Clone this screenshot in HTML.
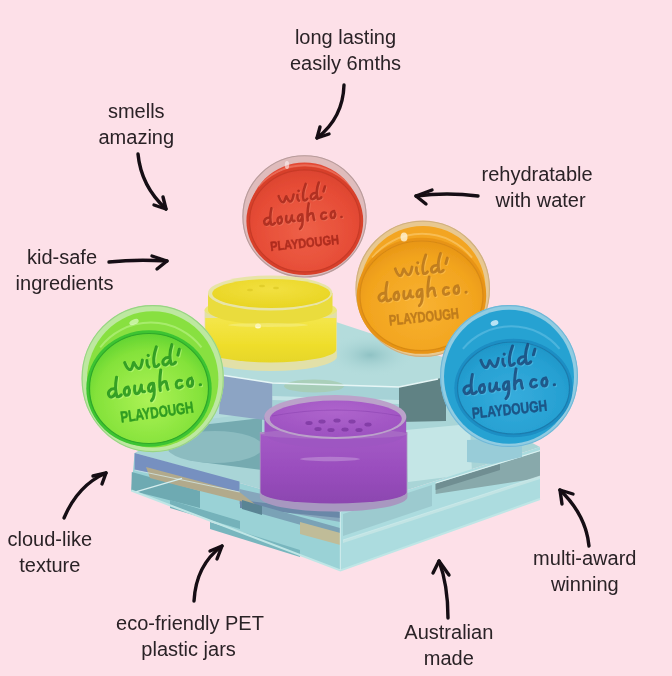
<!DOCTYPE html>
<html><head><meta charset="utf-8">
<style>
html,body{margin:0;padding:0;background:#fde0e8;width:672px;height:676px;overflow:hidden}
svg{display:block;position:absolute;left:0;top:0}
.t{font-family:"Liberation Sans",sans-serif;font-size:20px;fill:#2a2226}
.ar{fill:none;stroke:#141012;stroke-width:3.4;stroke-linecap:round;stroke-linejoin:round}
.pd{font-family:"Liberation Sans",sans-serif;font-weight:bold}
</style></head><body>
<svg width="672" height="676" viewBox="0 0 672 676">
<rect width="672" height="676" fill="#fde0e8"/>
<defs>
<g id="scr" fill="none" stroke="currentColor" stroke-width="2.7" stroke-linecap="round" stroke-linejoin="round">
<path d="M22,13 C23,17 24,20 26,20 C28,20 29,15 30,14 C31,16 32,20 34,20 C36,20 37,16 38,13"/>
<path d="M42,14 C41.5,17 41.5,19 43,20 M43.6,9.5 l0.2,0.2"/>
<path d="M52,3 C49,9 47,16 48,20 C49,21 51,20 52,19"/>
<path d="M62,14 C58,13 55,16 56,19 C57,21 60,20 62,17 M66,3 C63,9 62,15 63,20 C64,21 66,20 67,19"/>
<path d="M72,8 l-2,5"/>
<path d="M10,35 C6,34 3,37 4,40 C5,43 8,42 10,39 M13,25 C11,31 10,37 11,42 C12,43 14,42 15,41"/>
<path d="M22,35 C18,35 17,40 19,42 C22,43 24,39 22,35"/>
<path d="M28,35 C27,39 27,42 29,42 C31,42 33,38 34,35 C33,39 34,42 36,41"/>
<path d="M45,35 C41,34 39,38 40,41 C42,43 44,40 45,36 C45,42 44,48 41,50"/>
<path d="M53,24 C51,31 50,37 50,42 M50,39 C51,36 54,34 56,35 C57,37 56,40 57,42"/>
<path d="M70,36 C66,34 64,38 65,41 C66,43 69,42 70,41"/>
<path d="M79,35 C75,35 74,40 76,42 C79,43 81,39 79,35"/>
<path d="M86,42 l0.3,0"/>
</g>
</defs>
<defs><filter id="soft" x="-5%" y="-5%" width="110%" height="110%"><feGaussianBlur stdDeviation="0.7"/></filter><filter id="gray"><feGaussianBlur stdDeviation="0.3"/></filter><radialGradient id="tr"><stop offset="0" stop-color="#8fc2c4"/><stop offset="1" stop-color="#b4dcdc" stop-opacity="0"/></radialGradient>
<radialGradient id="g_red" cx="0.5" cy="0.6" r="0.6"><stop offset="0" stop-color="#ee6048"/><stop offset="0.75" stop-color="#e64c36"/><stop offset="1" stop-color="#dc4430"/></radialGradient>
<linearGradient id="yb" x1="0" y1="0" x2="0" y2="1"><stop offset="0" stop-color="#f4e64a"/><stop offset="0.6" stop-color="#efde2c"/><stop offset="1" stop-color="#e6d628"/></linearGradient>
<radialGradient id="ys" cx="0.5" cy="0.35" r="0.7"><stop offset="0" stop-color="#f2e040"/><stop offset="1" stop-color="#e8d420"/></radialGradient>
<radialGradient id="g_orange" cx="0.5" cy="0.6" r="0.6"><stop offset="0" stop-color="#f8b232"/><stop offset="0.75" stop-color="#f2a41e"/><stop offset="1" stop-color="#e89616"/></radialGradient>
<radialGradient id="g_green" cx="0.5" cy="0.6" r="0.6"><stop offset="0" stop-color="#acf256"/><stop offset="0.75" stop-color="#84e23a"/><stop offset="1" stop-color="#62d432"/></radialGradient>
<linearGradient id="pb" x1="0" y1="0" x2="0" y2="1"><stop offset="0" stop-color="#a45ac6"/><stop offset="0.5" stop-color="#9a4ebe"/><stop offset="1" stop-color="#8c46b0"/></linearGradient>
<radialGradient id="ps" cx="0.5" cy="0.3" r="0.75"><stop offset="0" stop-color="#ae64cc"/><stop offset="1" stop-color="#9c50c0"/></radialGradient>
<radialGradient id="g_blue" cx="0.5" cy="0.6" r="0.6"><stop offset="0" stop-color="#36acdc"/><stop offset="0.75" stop-color="#26a0d2"/><stop offset="1" stop-color="#1e96c8"/></radialGradient></defs>
<g filter="url(#soft)">
<g id="slab">
<polygon points="134.6,452.9 335,340 540,447 340.4,511.7" fill="#a9d5d7" />
<polygon points="175,428 262,418 262,470 200,462 172,450" fill="#74aab0" />
<ellipse cx="215" cy="447" rx="48" ry="16" fill="#8cbcc0" />
<polygon points="406,430 470,424 472,474 408,482" fill="#c4e6e6" />
<polygon points="134.6,452.9 340.4,511.7 340.4,570.5 131.3,490.5" fill="#9ad2d6" />
<polygon points="131.8,472 200,491 200,508 131.3,490.5" fill="#6eaab2" />
<polygon points="134.6,452.9 239.5,481.4 239.5,492 134.6,470" fill="#7690c0" />
<polygon points="239.5,489 340.4,511.7 340.4,522 239.5,504" fill="#86a6bc" />
<polygon points="240,500 340.4,512 340.4,518 240,508" fill="#6a88a8" />
<polygon points="146,467 239.5,492 256,505 180,486 150,478" fill="#b2aa8c" />
<polygon points="262,506 340,528 340,536 262,514" fill="#7aa2b6" />
<polygon points="300,522 340.4,533 340.4,545 300,534" fill="#c0bc98" />
<polygon points="170,500 240,521 240,529 170,508" fill="#74b2ba" />
<polygon points="242,500 262,506 262,515 242,509" fill="#5a8494" />
<polygon points="210,522 300,550 300,557 210,529" fill="#78b6be" />
<line x1="135.7" y1="491.8" x2="182" y2="478.4" stroke="#d6eeee" stroke-width="1.2"/>
<polygon points="340.4,511.7 540,447 540,499 340.4,570.5" fill="#acdcdf" />
<polygon points="435.6,483.7 540,451.3 540,478 435.6,494" fill="#88a9ab" />
<polygon points="435.6,483.7 500,464 500,470 435.6,490" fill="#6f8e92" />
<line x1="435.6" y1="483" x2="540" y2="450.6" stroke="#dff2f2" stroke-width="1"/>
<polygon points="343,514 432,485 432,506 343,536" fill="#9ccacf" />
<polygon points="343,540 540,476 540,479 343,543" fill="#c2e4e4" />
<polygon points="467,440 522,438 522,457 492,464 467,462" fill="#98ccd8" />
<polyline points="131.3,490.5 340.4,570.5 540,499" fill="none" stroke="#bfe6e6" stroke-width="2"/>
<line x1="340.4" y1="512" x2="340.4" y2="570" stroke="#d0eeee" stroke-width="1.2" opacity="0.8"/>
<polyline points="134.6,470 239.5,492" fill="none" stroke="#d8f0f0" stroke-width="1" opacity="0.7"/>
<polyline points="343,540 540,476" fill="none" stroke="#d8f0f0" stroke-width="1" opacity="0.5"/>
</g>
<g id="upper">
<polygon points="200,420 190,368 206,362 336,322 470,366 438,380 343,403" fill="#b4dcdc" />
<ellipse cx="370" cy="355" rx="45" ry="22" fill="url(#tr)" />
<polygon points="221,375 272.5,383 272.5,421 219,414" fill="#8ca4c4" />
<polygon points="272.5,383 399,387 399,422 272.5,421" fill="#a6d2d6" />
<polygon points="272.5,396 399,400 399,404 272.5,400" fill="#c4e4e6" />
<polygon points="399,387 446,377 446,421 399,422" fill="#618284" />
<ellipse cx="314" cy="386" rx="30" ry="6.5" fill="#a8ccb0" opacity="0.8"/>
<polyline points="221,375 272.5,383 399,387 438,379" fill="none" stroke="#e6f6f6" stroke-width="1.4"/>
</g>
<g id="red">
<ellipse cx="304.5" cy="216.4" rx="62.2" ry="61.2" fill="#dfbcbc" />
<ellipse cx="304.5" cy="216.4" rx="61.6" ry="60.6" fill="none" stroke="#b89c9c" stroke-width="1.1"/>
<ellipse cx="304.5" cy="217.20000000000002" rx="55.7" ry="54.7" fill="#e34a35" />
<path d="M259.3,186.9 A56.7,54.1 0 0 1 350.0,186.9" fill="none" stroke="#f49a86" stroke-width="2" opacity="0.4"/>
<ellipse cx="304.8" cy="220.9" rx="58.400000000000006" ry="54.2" fill="#d8402c" />
<ellipse cx="304.8" cy="220.9" rx="55.2" ry="51" fill="url(#g_red)" stroke="#c83a28" stroke-width="1.2"/>
<g transform="translate(301.5,206.5) rotate(-6) scale(0.94) translate(-45,-26.5)"><use href="#scr" x="0.8" y="1.0" style="color:#f08068" opacity="0.5"/><use href="#scr" style="color:#a8281c" opacity="0.85"/></g>
<text class="pd" x="304.5" y="247.5" font-size="13.2" textLength="69.0" lengthAdjust="spacingAndGlyphs" text-anchor="middle" fill="#a8281c" stroke="#a8281c" stroke-width="0.5" opacity="0.88" transform="rotate(-6 304.5 242.75)">PLAYDOUGH</text>
</g>
<g id="yellow">
<path d="M204.6,310 L204.6,357 A66.2,14.5 0 0 0 336.9,357 L336.9,310 Z" fill="#e2e0a8"/>
<path d="M205.3,318 L205.3,350 A65.5,13 0 0 0 336.2,350 L336.2,318 Z" fill="url(#yb)"/>
<ellipse cx="270.7" cy="310" rx="66.2" ry="12" fill="#ece67c" />
<path d="M208,293 L208,310 A62.2,14.5 0 0 0 332.5,310 L332.5,293 Z" fill="#eadc3c"/>
<ellipse cx="270.2" cy="293" rx="62.2" ry="17.5" fill="#e8e4a8" />
<ellipse cx="271.2" cy="293.5" rx="59" ry="14.5" fill="url(#ys)" />
<ellipse cx="262" cy="286" rx="3" ry="1.2" fill="#d8c420" opacity="0.6"/>
<ellipse cx="276" cy="288" rx="3" ry="1.2" fill="#d8c420" opacity="0.6"/>
<ellipse cx="250" cy="290" rx="3" ry="1.2" fill="#d8c420" opacity="0.6"/>
<ellipse cx="258" cy="326" rx="3" ry="2.5" fill="#fffce0" opacity="0.9"/>
<ellipse cx="268" cy="325" rx="40" ry="2" fill="#f6f090" opacity="0.5"/>
</g>
<g id="orange">
<ellipse cx="422.75" cy="288.8" rx="67.3" ry="68.2" fill="#e8c890" />
<ellipse cx="422.75" cy="288.8" rx="66.7" ry="67.60000000000001" fill="none" stroke="#d0b080" stroke-width="1.1"/>
<ellipse cx="422.75" cy="289.6" rx="62.8" ry="63.7" fill="#f3a520" />
<path d="M372.2,257.6 A62.4,59.5 0 0 1 472.0,257.6" fill="none" stroke="#ffe0a0" stroke-width="2" opacity="0.4"/>
<ellipse cx="421.5" cy="295.8" rx="64.7" ry="58.0" fill="#e89414" />
<ellipse cx="421.5" cy="295.8" rx="61.5" ry="54.8" fill="url(#g_orange)" stroke="#d88a12" stroke-width="1.2"/>
<g transform="translate(421,280.5) rotate(-6) scale(1.06) translate(-45,-26.5)"><use href="#scr" x="0.8" y="1.0" style="color:#ffc860" opacity="0.5"/><use href="#scr" style="color:#b8761c" opacity="0.85"/></g>
<text class="pd" x="423.9" y="321.9" font-size="14.8" textLength="70.2" lengthAdjust="spacingAndGlyphs" text-anchor="middle" fill="#b8761c" stroke="#b8761c" stroke-width="0.5" opacity="0.88" transform="rotate(-6 423.9 316.54999999999995)">PLAYDOUGH</text>
</g>
<g id="green">
<ellipse cx="152.7" cy="378.6" rx="71.2" ry="73.6" fill="#bde8a0" />
<ellipse cx="152.7" cy="378.6" rx="70.60000000000001" ry="73.0" fill="none" stroke="#98d484" stroke-width="1.1"/>
<ellipse cx="152.7" cy="379.40000000000003" rx="65.7" ry="68.1" fill="#88e040" />
<path d="M100.2,347.3 A63.4,62.3 0 0 1 201.5,347.3" fill="none" stroke="#d8ffb0" stroke-width="2" opacity="0.4"/>
<ellipse cx="149" cy="388.5" rx="62.7" ry="58.2" fill="#3cc432" />
<ellipse cx="149" cy="388.5" rx="59.5" ry="55" fill="url(#g_green)" stroke="#2ea82a" stroke-width="1.2"/>
<g transform="translate(152.3,374) rotate(-8) scale(1.12) translate(-45,-26.5)"><use href="#scr" x="0.8" y="1.0" style="color:#c8ff90" opacity="0.5"/><use href="#scr" style="color:#22921c" opacity="0.85"/></g>
<text class="pd" x="156.9" y="417.5" font-size="15.7" textLength="73.8" lengthAdjust="spacingAndGlyphs" text-anchor="middle" fill="#22921c" stroke="#22921c" stroke-width="0.5" opacity="0.88" transform="rotate(-8 156.9 411.9)">PLAYDOUGH</text>
</g>
<g id="purple">
<path d="M259.8,432 L259.8,497 A73.8,14.5 0 0 0 407.4,497 L407.4,432 Z" fill="#a898c0"/>
<path d="M260.6,434 L260.6,492 A73,11.5 0 0 0 406.6,492 L406.6,434 Z" fill="url(#pb)"/>
<path d="M264.5,417 L264.5,434 A71,15 0 0 0 406.2,434 L406.2,417 Z" fill="#9e56c2"/>
<ellipse cx="333.6" cy="434" rx="73.8" ry="5" fill="#b07cc8" opacity="0.5"/>
<ellipse cx="335.3" cy="417" rx="71" ry="22" fill="#bba2ca" />
<ellipse cx="335.8" cy="418.8" rx="66" ry="18.2" fill="url(#ps)" />
<ellipse cx="309" cy="423" rx="3.6" ry="2" fill="#7a369e" opacity="0.75"/>
<ellipse cx="322" cy="421.5" rx="3.6" ry="2" fill="#7a369e" opacity="0.75"/>
<ellipse cx="337" cy="420.5" rx="3.6" ry="2" fill="#7a369e" opacity="0.75"/>
<ellipse cx="352" cy="421.5" rx="3.6" ry="2" fill="#7a369e" opacity="0.75"/>
<ellipse cx="318" cy="429" rx="3.6" ry="2" fill="#7a369e" opacity="0.75"/>
<ellipse cx="331" cy="430" rx="3.6" ry="2" fill="#7a369e" opacity="0.75"/>
<ellipse cx="345" cy="429.5" rx="3.6" ry="2" fill="#7a369e" opacity="0.75"/>
<ellipse cx="359" cy="430" rx="3.6" ry="2" fill="#7a369e" opacity="0.75"/>
<ellipse cx="368" cy="424.5" rx="3.6" ry="2" fill="#7a369e" opacity="0.75"/>
<path d="M272,416 Q336,404 400,416" fill="none" stroke="#8c44b0" stroke-width="1.2" opacity="0.6"/>
<ellipse cx="330" cy="459" rx="30" ry="2.2" fill="#c49ad8" opacity="0.55"/>
</g>
<g id="blue">
<ellipse cx="509" cy="376" rx="69" ry="71" fill="#90cce2" />
<ellipse cx="509" cy="376" rx="68.4" ry="70.4" fill="none" stroke="#70b8d8" stroke-width="1.1"/>
<ellipse cx="509" cy="376.8" rx="65" ry="67" fill="#28a2d2" />
<path d="M462.9,348.9 A60.5,56.5 0 0 1 559.6,348.9" fill="none" stroke="#80d0ee" stroke-width="2" opacity="0.4"/>
<ellipse cx="513.5" cy="388" rx="59.2" ry="49.2" fill="#1c8ec4" />
<ellipse cx="513.5" cy="388" rx="56" ry="46" fill="url(#g_blue)" stroke="#1a7cae" stroke-width="1.2"/>
<g transform="translate(507.6,372.5) rotate(-6) scale(1.1) translate(-45,-26.5)"><use href="#scr" x="0.8" y="1.0" style="color:#60c4ea" opacity="0.5"/><use href="#scr" style="color:#1a4a7c" opacity="0.85"/></g>
<text class="pd" x="509.45" y="414.7" font-size="15.4" textLength="75.7" lengthAdjust="spacingAndGlyphs" text-anchor="middle" fill="#1a4a7c" stroke="#1a4a7c" stroke-width="0.5" opacity="0.88" transform="rotate(-6 509.45 409.2)">PLAYDOUGH</text>
</g>
<ellipse cx="494.5" cy="323" rx="4" ry="2.6" fill="#e8f8ff" opacity="0.75" transform="rotate(-20 494.5 323)"/>
<ellipse cx="404" cy="237" rx="3.5" ry="4.5" fill="#fff4d8" opacity="0.8"/>
<ellipse cx="134" cy="322" rx="5" ry="2.6" fill="#f0ffe0" opacity="0.6" transform="rotate(-25 134 322)"/>
<ellipse cx="287" cy="165" rx="2.2" ry="4" fill="#fff0f0" opacity="0.6"/>
</g>
<g class="t" text-anchor="middle" filter="url(#gray)">
<text x="345.5" y="43.5">long lasting</text>
<text x="345.5" y="69.5">easily 6mths</text>
<text x="136.3" y="117.7">smells</text>
<text x="136.3" y="143.7">amazing</text>
<text x="537.1" y="181">rehydratable</text>
<text x="540.6" y="207">with water</text>
<text x="62.0" y="263.5">kid-safe</text>
<text x="64.5" y="289.5">ingredients</text>
<text x="49.8" y="545.5">cloud-like</text>
<text x="49.8" y="571.5">texture</text>
<text x="584.8" y="565">multi-award</text>
<text x="584.8" y="591">winning</text>
<text x="190" y="629.7">eco-friendly PET</text>
<text x="188.6" y="655.7">plastic jars</text>
<text x="448.8" y="638.7">Australian</text>
<text x="448.8" y="664.7">made</text>
</g>
<g class="ar" filter="url(#gray)">
  <path d="M344,85 Q343,118 317,138"/><path d="M320,127 L317,138 L329,134"/>
  <path d="M138,154 Q141,186 166,209"/><path d="M163,197 L166,209 L154,205"/>
  <path d="M478,196 Q447,192 416,196"/><path d="M432,190 L416,196 L426,204"/>
  <path d="M109,262 Q136,259 167,261"/><path d="M152,256 L167,261 L157,269"/>
  <path d="M64,518 Q78,485 106,473"/><path d="M93,476 L106,473 L102,484"/>
  <path d="M589,546 Q586,515 560,490"/><path d="M573,494 L560,490 L562,504"/>
  <path d="M194,601 Q196,565 222,546"/><path d="M210,551 L222,546 L217,559"/>
  <path d="M448,618 Q448,585 439,561"/><path d="M433,573 L439,561 L449,575"/>
</g>
</svg>
</body></html>
